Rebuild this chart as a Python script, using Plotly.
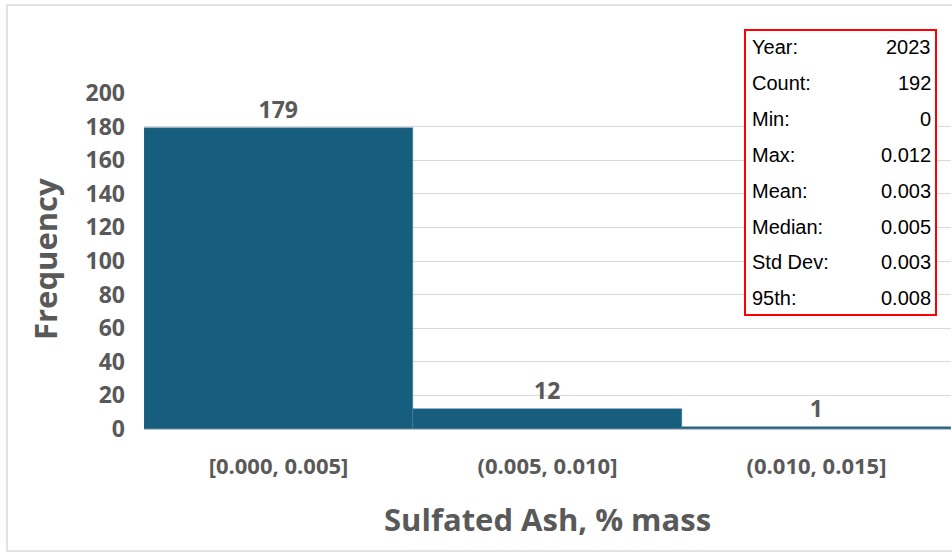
import plotly.graph_objects as go

categories = ["[0.000, 0.005]", "(0.005, 0.010]", "(0.010, 0.015]"]
counts = [179, 12, 1]
y_ticks = list(range(0, 201, 20))

stat_labels = ["Year:", "Count:", "Min:", "Max:", "Mean:", "Median:", "Std Dev:", "95th:"]
stat_values = ["2023", "192", "0", "0.012", "0.003", "0.005", "0.003", "0.008"]

W, H = 952, 553
ML, MR, MT, MB = 144, 1, 93, 124
PW = W - ML - MR
PH = H - MT - MB

def px_x(x):
    return (x - ML) / PW

def px_y(y):
    return (H - MB - y) / PH

GRAY = "#595959"
fig = go.Figure()
fig.add_trace(go.Bar(
    x=categories, y=counts,
    marker=dict(color="#175E7E", line=dict(color="#3f7d99", width=0.5)),
    text=[str(c) for c in counts], textposition="outside",
    textfont=dict(family="Open Sans", size=23, color=GRAY, weight="bold"),
    cliponaxis=False,
))

fig.update_layout(
    width=W, height=H,
    margin=dict(l=ML, r=MR, t=MT, b=MB),
    paper_bgcolor="white", plot_bgcolor="white",
    bargap=0, showlegend=False,
    xaxis=dict(
        showgrid=False, showline=False, ticks="",
        tickfont=dict(family="Open Sans", size=22, color=GRAY, weight="bold"),
        ticklabelstandoff=22,
    ),
    yaxis=dict(
        range=[0, 200], tickvals=y_ticks, showgrid=True, gridcolor="#d9d9d9", gridwidth=1,
        zeroline=True, zerolinecolor="#bfbfbf", zerolinewidth=1.5,
        tickfont=dict(family="Open Sans", size=23, color=GRAY, weight="bold"),
        ticklabelstandoff=18,
    ),
)

# Outer frame
fig.add_shape(type="rect", xref="paper", yref="paper",
              x0=px_x(7), x1=px_x(960), y0=px_y(551), y1=px_y(5),
              line=dict(color="#d9d9d9", width=1.5), layer="below")

# Axis titles
fig.add_annotation(text="Sulfated Ash, % mass", xref="paper", yref="paper",
                   x=px_x(547), y=px_y(519), xanchor="center", yanchor="middle", showarrow=False,
                   font=dict(family="Open Sans", size=31, color=GRAY, weight="bold"))
fig.add_annotation(text="Frequency", xref="paper", yref="paper",
                   x=px_x(45), y=px_y(259), xanchor="center", yanchor="middle",
                   showarrow=False, textangle=-90,
                   font=dict(family="Open Sans", size=31, color=GRAY, weight="bold"))

# Stats box
fig.add_shape(type="rect", xref="paper", yref="paper",
              x0=px_x(745), x1=px_x(936), y0=px_y(315), y1=px_y(30),
              line=dict(color="#ff0000", width=2), fillcolor="white", layer="above")
row_y0, row_dy = 47, 35.9
for i, (lab, val) in enumerate(zip(stat_labels, stat_values)):
    yy = px_y(row_y0 + i * row_dy)
    fig.add_annotation(text=lab, xref="paper", yref="paper", x=px_x(750), y=yy,
                       xanchor="left", yanchor="middle", showarrow=False,
                       font=dict(family="Liberation Sans", size=20, color="black"))
    fig.add_annotation(text=val, xref="paper", yref="paper", x=px_x(933), y=yy,
                       xanchor="right", yanchor="middle", showarrow=False,
                       font=dict(family="Liberation Sans", size=20, color="black"))

fig.write_html("out.html", config={"displayModeBar": False},
               post_script="document.body.style.margin='0';document.body.style.overflow='hidden';")
